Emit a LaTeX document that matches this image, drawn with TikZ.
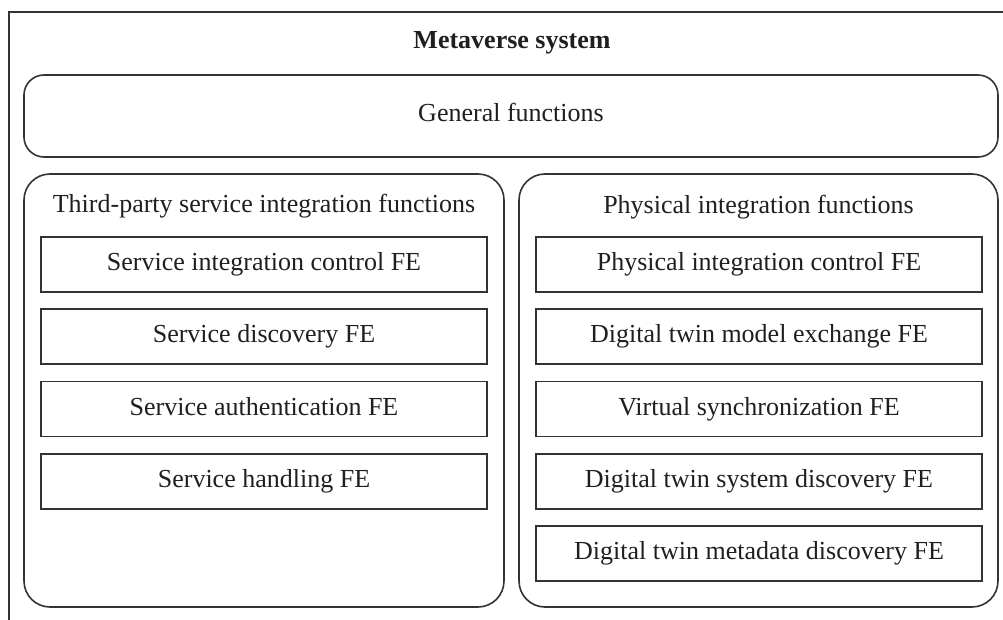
\documentclass[tikz,border=0pt]{standalone}
\usepackage{fontspec}
\setmainfont{Liberation Serif}
\begin{document}
\begin{tikzpicture}[x=1pt,y=-1pt,
  line/.style={draw=black!80, line width=1.6pt},
  txt/.style={text=black!88, font=\fontsize{26}{29}\selectfont, text height=18pt, text depth=6pt},
  fe/.style={line, txt, rectangle, minimum width=446pt, minimum height=55pt, inner sep=0pt},
  panel/.style={line, rectangle, rounded corners=26pt, minimum width=480pt, minimum height=433pt, inner sep=0pt},
  general/.style={line, txt, rectangle, rounded corners=20pt, minimum width=974pt, minimum height=82pt, inner sep=0pt}]
\useasboundingbox (0,0) rectangle (1003,620);
% outer system frame (open on the right and bottom)
\draw[line] (9,620) -- (9,12) -- (1003,12);
\node[txt, font=\fontsize{26}{29}\selectfont\bfseries] (sys) at (512,43) {Metaverse system};
\node[general] (gen) at (511,116) {General functions};
% third-party service integration
\node[panel] (tp) at (264,390.5) {};
\node[txt] (tpt) at (264,207) {Third-party service integration functions};
\node[fe] (s1) at (264,264.5) {Service integration control FE};
\node[fe] (s2) at (264,336.5) {Service discovery FE};
\node[fe] (s3) at (264,409) {Service authentication FE};
\node[fe] (s4) at (264,481.5) {Service handling FE};
% physical integration
\node[panel, minimum width=479pt] (ph) at (758.5,390.5) {};
\node[txt] (pht) at (758.5,208) {Physical integration functions};
\node[fe] (p1) at (759,264.5) {Physical integration control FE};
\node[fe] (p2) at (759,336.5) {Digital twin model exchange FE};
\node[fe] (p3) at (759,409) {Virtual synchronization FE};
\node[fe] (p4) at (759,481.5) {Digital twin system discovery FE};
\node[fe] (p5) at (759,553.5) {Digital twin metadata discovery FE};
\end{tikzpicture}
\end{document}
